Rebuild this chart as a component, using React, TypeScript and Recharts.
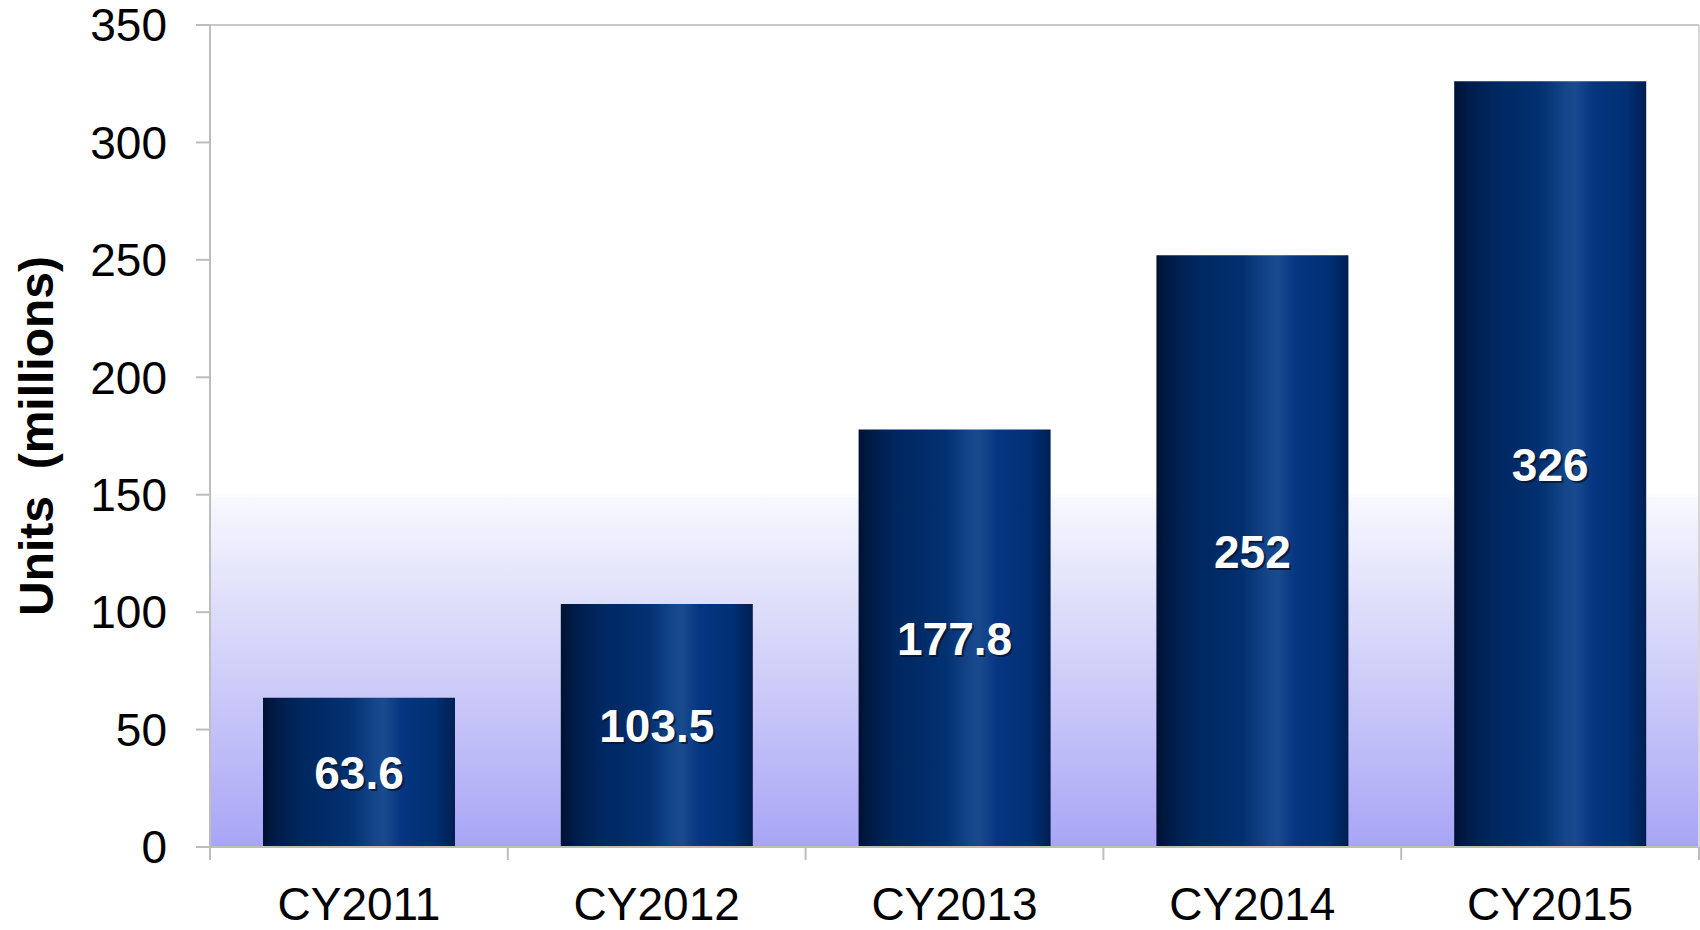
import { Bar, BarChart, CartesianGrid, LabelList, ReferenceLine, XAxis, YAxis } from "recharts";

const categories = ["CY2011", "CY2012", "CY2013", "CY2014", "CY2015"];
const units = [63.6, 103.5, 177.8, 252, 326];
const unitLabels = ["63.6", "103.5", "177.8", "252", "326"];
const yTicks = [0, 50, 100, 150, 200, 250, 300, 350];

const data = categories.map((year, i) => ({ year, units: units[i], label: unitLabels[i] }));

const FONT = "'Liberation Sans', Arial, sans-serif";
const AXIS_GRAY = "#bdbdbd";

function XTick(props: any) {
  const { x, y, payload, index } = props;
  const half = payload?.offset ?? 0;
  return (
    <g>
      <line x1={x - half} x2={x - half} y1={y} y2={y + 13} stroke={AXIS_GRAY} strokeWidth={2} />
      {index === categories.length - 1 && (
        <line x1={x + half} x2={x + half} y1={y} y2={y + 13} stroke={AXIS_GRAY} strokeWidth={2} />
      )}
      <text x={x} y={y + 73} textAnchor="middle" fontSize={46} fontFamily={FONT} fill="#000">
        {payload.value}
      </text>
    </g>
  );
}

function ValueLabel(props: any) {
  const { x, y, width, height, value } = props;
  const cx = x + width / 2;
  const cy = y + height / 2;
  return (
    <g fontFamily={FONT} fontSize={46} fontWeight="bold" textAnchor="middle">
      <text x={cx + 2} y={cy + 2} dy="0.36em" fill="#081428" opacity={0.75}>
        {value}
      </text>
      <text x={cx} y={cy} dy="0.36em" fill="#ffffff">
        {value}
      </text>
    </g>
  );
}

function YTitle(props: any) {
  const vb = props.viewBox;
  const cx = 36;
  const cy = vb.y + vb.height / 2;
  return (
    <text
      x={cx}
      y={cy}
      transform={`rotate(-90 ${cx} ${cy})`}
      textAnchor="middle"
      dominantBaseline="central"
      fontFamily={FONT}
      fontSize={48}
      fontWeight="bold"
      fill="#000"
      style={{ whiteSpace: "pre" }}
    >
      {"Units  (millions)"}
    </text>
  );
}

export default function App() {
  return (
    <div style={{ position: "absolute", left: 0, top: 0, width: 1700, height: 930, background: "#fff" }}>
      <BarChart
        width={1700}
        height={930}
        data={data}
        margin={{ top: 25, right: 0, bottom: 0, left: 0 }}
        barCategoryGap="17.8%"
      >
        <defs>
          <linearGradient id="plotBg" x1="0" y1="0" x2="0" y2="1">
            <stop offset="0" stopColor="#ffffff" />
            <stop offset="0.57" stopColor="#ffffff" />
            <stop offset="0.575" stopColor="#f8f8ff" />
            <stop offset="0.715" stopColor="#dcdcfa" />
            <stop offset="0.857" stopColor="#c3c1f8" />
            <stop offset="1" stopColor="#a8a5f6" />
          </linearGradient>
          <linearGradient id="barFill" x1="0" y1="0" x2="1" y2="0">
            <stop offset="0" stopColor="#001233" />
            <stop offset="0.08" stopColor="#001d4a" />
            <stop offset="0.2" stopColor="#00275f" />
            <stop offset="0.45" stopColor="#023070" />
            <stop offset="0.58" stopColor="#15468a" />
            <stop offset="0.63" stopColor="#1a4a8e" />
            <stop offset="0.72" stopColor="#063681" />
            <stop offset="0.9" stopColor="#002f73" />
            <stop offset="1" stopColor="#001f52" />
          </linearGradient>
        </defs>
        <CartesianGrid vertical={false} stroke="#ebebeb" strokeWidth={2} fill="url(#plotBg)" fillOpacity={1} />
        <XAxis
          dataKey="year"
          height={83}
          axisLine={{ stroke: AXIS_GRAY, strokeWidth: 2 }}
          tickLine={false}
          tickSize={0}
          tickMargin={0}
          interval={0}
          tick={<XTick />}
        />
        <YAxis
          yAxisId="left"
          width={210}
          domain={[0, 350]}
          ticks={yTicks}
          interval={0}
          axisLine={{ stroke: AXIS_GRAY, strokeWidth: 2 }}
          tickLine={{ stroke: AXIS_GRAY, strokeWidth: 2 }}
          tickSize={14}
          tickMargin={29}
          tick={{ fontSize: 46, fontFamily: FONT, fill: "#000" }}
          label={<YTitle />}
        />
        <YAxis
          yAxisId="right"
          orientation="right"
          width={1}
          domain={[0, 350]}
          tick={false}
          tickLine={false}
          axisLine={{ stroke: "#d6d6d6", strokeWidth: 2 }}
        />
        <ReferenceLine yAxisId="left" y={350} stroke="#c8c8c8" strokeWidth={2} />
        <Bar yAxisId="left" dataKey="units" fill="url(#barFill)" isAnimationActive={false}>
          <LabelList dataKey="label" position="center" content={<ValueLabel />} />
        </Bar>
      </BarChart>
    </div>
  );
}
